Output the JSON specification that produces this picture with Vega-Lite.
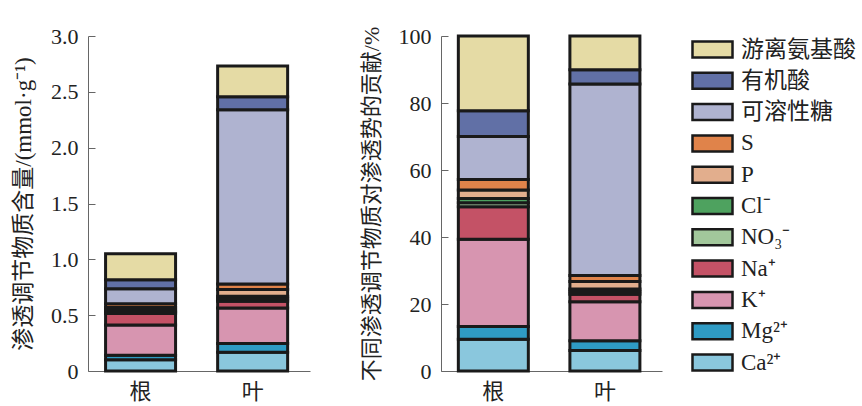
{
  "$schema": "https://vega.github.io/schema/vega-lite/v6.json",
  "padding": {"left": 12, "top": 25, "right": 0, "bottom": 0},
  "background": "white",
  "config": {
    "view": {"stroke": null},
    "font": "Liberation Serif, Noto Sans CJK SC",
    "axis": {
      "grid": false,
      "domainColor": "#666666",
      "tickColor": "#666666",
      "tickSize": -7,
      "labelPadding": 17,
      "labelFont": "Liberation Serif, Noto Sans CJK SC",
      "titleFont": "Liberation Serif, Noto Sans CJK SC",
      "labelFontSize": 22,
      "titleFontSize": 22,
      "labelColor": "#222222",
      "titleColor": "#222222",
      "titleFontWeight": "normal"
    },
    "legend": {
      "labelFont": "Liberation Serif, Noto Sans CJK SC",
      "labelFontSize": 23,
      "labelColor": "#222222",
      "symbolType": "M-1.667,-0.667H1.667V0.667H-1.667Z",
      "symbolSize": 576,
      "symbolStrokeColor": "#1a1a1a",
      "symbolStrokeWidth": 2.5,
      "symbolOpacity": 1,
      "rowPadding": 4.3,
      "labelOffset": 15,
      "labelLimit": 300,
      "offset": 37
    }
  },
  "data": {
    "values": [
      {"organ": "根", "component": "Ca²⁺", "rank": 1, "value": 0.100, "pct": 9.5},
      {"organ": "根", "component": "Mg²⁺", "rank": 2, "value": 0.040, "pct": 3.8},
      {"organ": "根", "component": "K⁺", "rank": 3, "value": 0.273, "pct": 26.0},
      {"organ": "根", "component": "Na⁺", "rank": 4, "value": 0.102, "pct": 9.7},
      {"organ": "根", "component": "NO₃⁻", "rank": 5, "value": 0.013, "pct": 1.2},
      {"organ": "根", "component": "Cl⁻", "rank": 6, "value": 0.014, "pct": 1.3},
      {"organ": "根", "component": "P", "rank": 7, "value": 0.026, "pct": 2.5},
      {"organ": "根", "component": "S", "rank": 8, "value": 0.034, "pct": 3.2},
      {"organ": "根", "component": "可溶性糖", "rank": 9, "value": 0.134, "pct": 12.8},
      {"organ": "根", "component": "有机酸", "rank": 10, "value": 0.081, "pct": 7.7},
      {"organ": "根", "component": "游离氨基酸", "rank": 11, "value": 0.234, "pct": 22.3},
      {"organ": "叶", "component": "Ca²⁺", "rank": 1, "value": 0.167, "pct": 6.1},
      {"organ": "叶", "component": "Mg²⁺", "rank": 2, "value": 0.079, "pct": 2.9},
      {"organ": "叶", "component": "K⁺", "rank": 3, "value": 0.319, "pct": 11.7},
      {"organ": "叶", "component": "Na⁺", "rank": 4, "value": 0.060, "pct": 2.2},
      {"organ": "叶", "component": "NO₃⁻", "rank": 5, "value": 0.022, "pct": 0.8},
      {"organ": "叶", "component": "Cl⁻", "rank": 6, "value": 0.022, "pct": 0.8},
      {"organ": "叶", "component": "P", "rank": 7, "value": 0.060, "pct": 2.2},
      {"organ": "叶", "component": "S", "rank": 8, "value": 0.049, "pct": 1.8},
      {"organ": "叶", "component": "可溶性糖", "rank": 9, "value": 1.562, "pct": 57.2},
      {"organ": "叶", "component": "有机酸", "rank": 10, "value": 0.115, "pct": 4.2},
      {"organ": "叶", "component": "游离氨基酸", "rank": 11, "value": 0.276, "pct": 10.1}
    ]
  },
  "spacing": 50,
  "hconcat": [
    {
      "width": 222,
      "height": 335,
      "mark": {"type": "bar", "stroke": "#1a1a1a", "strokeWidth": 3, "width": 70},
      "encoding": {
        "x": {
          "field": "organ", "type": "nominal", "sort": ["根", "叶"],
          "scale": {"paddingInner": 0.375, "paddingOuter": 0.178, "align": 0.44},
          "axis": {"title": null, "labelAngle": 0, "ticks": false, "labelPadding": 10, "labelFontSize": 22}
        },
        "y": {
          "field": "value", "type": "quantitative",
          "scale": {"domain": [0, 3], "nice": false},
          "axis": {
            "title": "渗透调节物质含量/(mmol·g⁻¹)",
            "titleFontSize": 23,
            "values": [0, 0.5, 1, 1.5, 2, 2.5, 3],
            "labelExpr": "datum.value == 0 ? '0' : format(datum.value, '.1f')",
            "titlePadding": 15
          }
        },
        "color": {
          "field": "component", "type": "nominal",
          "scale": {
            "domain": ["游离氨基酸", "有机酸", "可溶性糖", "S", "P", "Cl⁻", "NO₃⁻", "Na⁺", "K⁺", "Mg²⁺", "Ca²⁺"],
            "range": ["#E5DBA5", "#6170A6", "#AFB3D0", "#E0834A", "#E2AE8D", "#4EA25F", "#A2C79B", "#C45266", "#D795B0", "#2F9BC4", "#8AC7DD"]
          },
          "legend": {"title": null}
        },
        "order": {"field": "rank", "type": "quantitative", "sort": "ascending"}
      }
    },
    {
      "width": 221,
      "height": 335,
      "mark": {"type": "bar", "stroke": "#1a1a1a", "strokeWidth": 3, "width": 70},
      "encoding": {
        "x": {
          "field": "organ", "type": "nominal", "sort": ["根", "叶"],
          "scale": {"paddingInner": 0.375, "paddingOuter": 0.178, "align": 0.44},
          "axis": {"title": null, "labelAngle": 0, "ticks": false, "labelPadding": 10, "labelFontSize": 22}
        },
        "y": {
          "field": "pct", "type": "quantitative",
          "scale": {"domain": [0, 100], "nice": false},
          "axis": {
            "title": "不同渗透调节物质对渗透势的贡献/%",
            "values": [0, 20, 40, 60, 80, 100],
            "titlePadding": 15
          }
        },
        "color": {"field": "component", "type": "nominal", "legend": {"title": null}},
        "order": {"field": "rank", "type": "quantitative", "sort": "ascending"}
      }
    }
  ]
}
